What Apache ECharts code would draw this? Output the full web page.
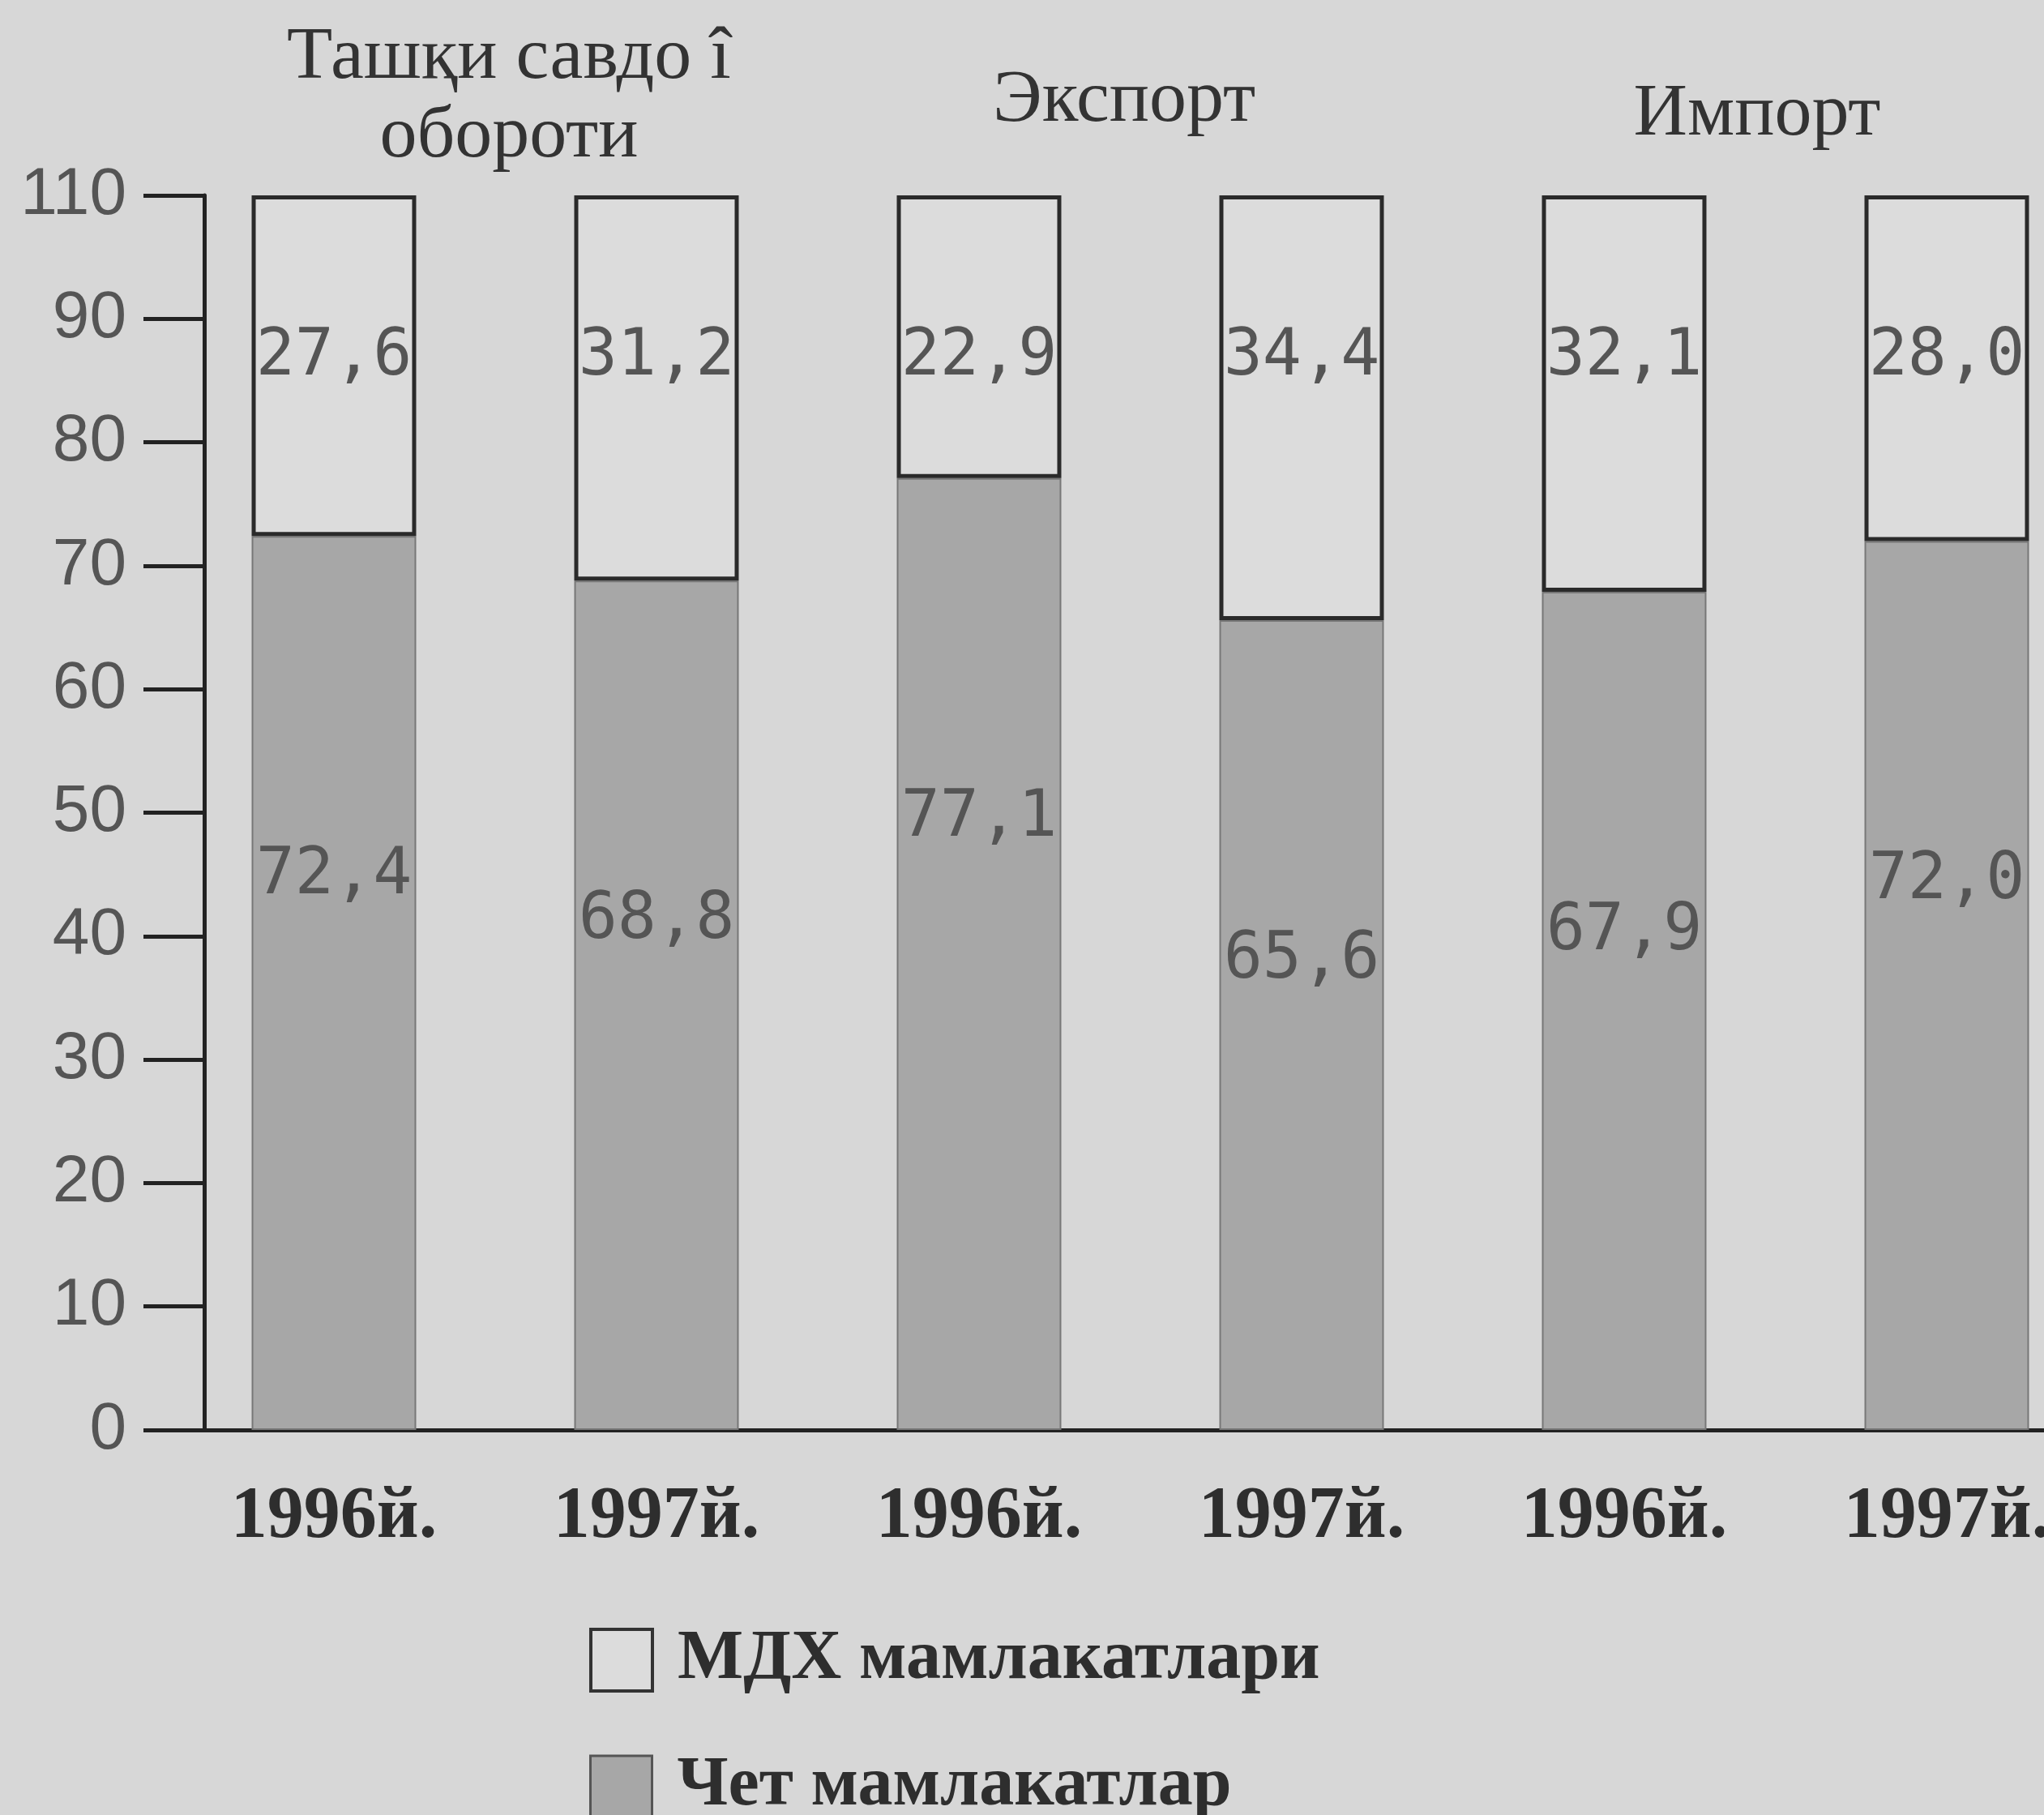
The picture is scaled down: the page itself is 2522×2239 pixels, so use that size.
<!DOCTYPE html>
<html>
<head>
<meta charset="utf-8">
<script src="https://cdn.jsdelivr.net/npm/echarts@6/dist/echarts.min.js"></script>
<style>
    html, body { margin: 0; padding: 0; background: #d7d7d7; }
    #chart { width: 2522px; height: 2239px; }
</style>
</head>
<body>
<div id="chart"></div>
<script>
// categories and values (percent)
const categories = ['1996й.', '1997й.', '1996й.', '1997й.', '1996й.', '1997й.']
const foreignValues = [72.4, 68.8, 77.1, 65.6, 67.9, 72.0]   // Чет мамлакатлар
const cisValues = [27.6, 31.2, 22.9, 34.4, 32.1, 28.0]       // МДХ мамлакатлари
const yTickLabels = ['0', '10', '20', '30', '40', '50', '60', '70', '80', '90', '110']
const groupTitles = ['Ташқи савдо î\nобороти', 'Экспорт', 'Импорт']
const seriesNames = ['МДХ мамлакатлари', 'Чет мамлакатлар']

const fmt = (v) => v.toFixed(1).replace('.', ',')

const chart = echarts.init(document.getElementById('chart'))

const serif = '"Liberation Serif", "DejaVu Serif", serif'
const mono = '"DejaVu Sans Mono", "Liberation Mono", monospace'

const legendText = {
    fontFamily: serif, fontWeight: 'bold', fontSize: 86, color: '#2e2e2e',
    lineHeight: 80, padding: [0, 0, 0, 26]
}

const option = {
    backgroundColor: '#d7d7d7',
    animation: false,
    graphic: [
        {
            type: 'text', x: 628, y: 120,
            style: {
                text: groupTitles[0], font: '92px ' + serif, fill: '#333',
                textAlign: 'center', textVerticalAlign: 'middle', lineHeight: 97
            }
        },
        {
            type: 'text', x: 1387, y: 125,
            style: { text: groupTitles[1], font: '92px ' + serif, fill: '#333', textAlign: 'center', textVerticalAlign: 'middle' }
        },
        {
            type: 'text', x: 2168, y: 142,
            style: { text: groupTitles[2], font: '92px ' + serif, fill: '#333', textAlign: 'center', textVerticalAlign: 'middle' }
        }
    ],
    legend: [
        {
            left: 722,
            top: 2000,
            itemWidth: 76,
            itemHeight: 76,
            icon: 'rect',
            textStyle: legendText,
            data: [
                { name: seriesNames[0], itemStyle: { color: '#dcdcdc', borderColor: '#333', borderWidth: 4 } }
            ]
        },
        {
            left: 722,
            top: 2156,
            itemWidth: 76,
            itemHeight: 76,
            icon: 'rect',
            textStyle: legendText,
            data: [
                { name: seriesNames[1], itemStyle: { color: '#a7a7a7', borderColor: '#555', borderWidth: 3 } }
            ]
        }
    ],
    grid: {
        left: 213,
        top: 241,
        width: 2388,
        bottom: 475,
        outerBoundsMode: 'none',
        containLabel: false
    },
    xAxis: {
        type: 'category',
        data: categories,
        axisLine: { lineStyle: { color: '#222', width: 5 } },
        axisTick: { show: false },
        axisLabel: {
            interval: 0,
            margin: 64,
            fontFamily: serif,
            fontWeight: 'bold',
            fontSize: 90,
            color: '#2e2e2e'
        }
    },
    yAxis: {
        type: 'value',
        min: 0,
        max: 100,
        interval: 10,
        offset: -39,
        splitLine: { show: false },
        axisLine: { show: true, lineStyle: { color: '#222', width: 5 } },
        axisTick: { show: true, length: 75, lineStyle: { color: '#222', width: 5 } },
        axisLabel: {
            margin: 96,
            fontFamily: '"Liberation Sans", Arial, sans-serif',
            fontSize: 82,
            color: '#555',
            formatter: (v) => yTickLabels[Math.round(v / 10)]
        }
    },
    series: [
        {
            name: seriesNames[1],
            type: 'bar',
            stack: 'total',
            barWidth: '51%',
            data: foreignValues,
            itemStyle: { color: '#a7a7a7', borderColor: '#777', borderWidth: 2 },
            label: {
                show: true,
                position: 'insideTop',
                distance: 380,
                fontFamily: mono,
                fontSize: 80,
                color: '#555',
                formatter: (p) => fmt(p.value)
            }
        },
        {
            name: seriesNames[0],
            type: 'bar',
            stack: 'total',
            barWidth: '51%',
            data: cisValues,
            itemStyle: { color: '#dcdcdc', borderColor: '#2a2a2a', borderWidth: 5 },
            label: {
                show: true,
                position: 'insideTop',
                distance: 160,
                fontFamily: mono,
                fontSize: 80,
                color: '#555',
                formatter: (p) => fmt(p.value)
            }
        }
    ]
}

chart.setOption(option)
</script>
</body>
</html>
